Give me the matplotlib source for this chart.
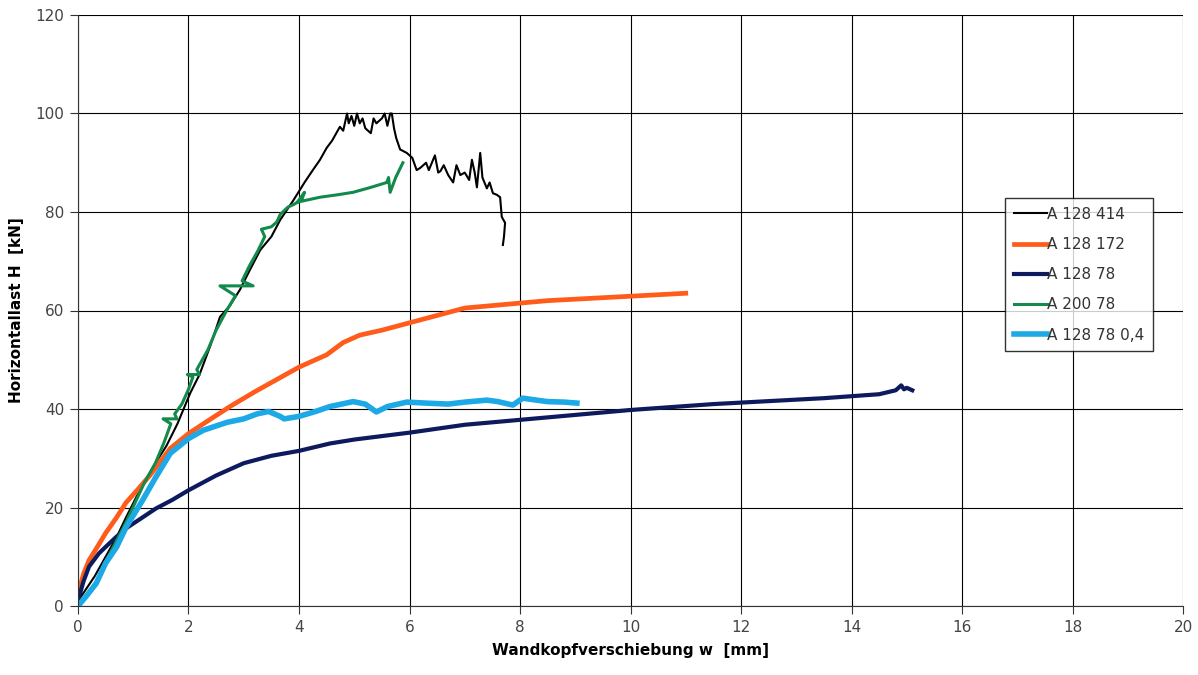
import matplotlib
matplotlib.use("Agg")
from matplotlib import pyplot as plt

# A 128 414
x_414 = [0, 0.15, 0.3, 0.5, 0.7, 0.87, 1.05, 1.2, 1.4, 1.6, 1.8, 2.03, 2.2, 2.4, 2.57, 2.75,
         2.93, 3.1, 3.3, 3.5, 3.66, 3.9, 4.1, 4.25, 4.38, 4.5, 4.6, 4.74, 4.8, 4.87, 4.9, 4.95,
         5.0, 5.05, 5.1, 5.15, 5.2, 5.3, 5.35, 5.4, 5.5, 5.55, 5.6, 5.65, 5.68, 5.72, 5.76, 5.83,
         5.95, 6.05, 6.13, 6.2, 6.3, 6.35, 6.46, 6.52, 6.56, 6.62, 6.7, 6.79, 6.85, 6.92, 7.0,
         7.08, 7.13, 7.18, 7.22, 7.28, 7.32, 7.4, 7.45, 7.51, 7.58, 7.64, 7.67, 7.73, 7.71, 7.69]
y_414 = [1, 3.5, 6, 10, 14, 18, 22, 25, 29, 32.5, 37, 43.2, 47, 53, 58.7, 61,
         64.2, 68, 72.3, 75, 78.4, 82.4, 86, 88.5, 90.6, 93, 94.5, 97.3, 96.5, 100, 98, 99.5,
         97.5, 100, 98, 99, 97, 96, 99, 98, 99, 100, 97.5, 100, 100, 97, 95, 92.7,
         92, 91, 88.5, 89, 90, 88.5, 91.5, 88, 88.3, 89.5, 87.5, 86, 89.5, 87.5, 88,
         86.5, 90.6, 88, 85, 92, 87, 84.8, 86, 83.8, 83.5, 83, 79, 77.8, 75, 73.3]

# A 128 172
x_172 = [0, 0.02, 0.1, 0.2, 0.35, 0.5, 0.7, 0.87, 1.07, 1.3, 1.67, 2.0, 2.27, 2.75, 3.2, 3.6,
         4.0, 4.5, 4.8, 5.1, 5.5, 6.0, 6.5, 7.0, 7.5, 8.0, 8.5, 9.0, 9.5, 10.0, 10.5, 11.0]
y_172 = [2, 3.2, 6.5, 9.3, 12, 14.8, 18, 21, 23.5, 26.5, 32, 35, 37, 40.5, 43.5, 46,
         48.5, 51, 53.5, 55, 56, 57.5, 59, 60.5, 61, 61.5, 62, 62.3, 62.6, 62.9, 63.2, 63.5]

# A 128 78
x_78 = [0, 0.02, 0.1, 0.2, 0.38, 0.5, 0.69, 0.9, 1.17, 1.41, 1.7, 2.0, 2.5, 3.0, 3.5, 4.0,
        4.56, 5.0, 5.5, 6.0, 6.5, 7.0, 7.5, 8.0, 8.5, 9.0, 9.5, 10.0, 10.5, 11.0, 11.5, 12.0,
        12.5, 13.0, 13.5, 14.0, 14.5, 14.8, 14.9, 14.95, 15.0, 15.1]
y_78 = [1, 1.9, 5, 8, 10.7, 12, 14, 16, 18, 19.8, 21.5, 23.5, 26.5, 29, 30.5, 31.5,
        33, 33.8, 34.5, 35.2, 36, 36.8, 37.3, 37.8, 38.3, 38.8, 39.3, 39.8, 40.2, 40.6, 41, 41.3,
        41.6, 41.9, 42.2, 42.6, 43, 43.8, 44.8, 44, 44.3, 43.8]

# A 200 78
x_200 = [0, 0.3, 0.5, 0.87, 1.2, 1.4, 1.55, 1.68, 1.54, 1.79, 1.75, 1.88, 2.0, 2.08, 1.98,
         2.2, 2.15, 2.35, 2.5, 2.69, 2.85, 2.57, 3.17, 2.97, 3.1, 3.25, 3.38, 3.32, 3.5, 3.6,
         3.66, 3.8, 3.9, 4.05, 4.1, 3.97, 4.38, 4.7, 4.98, 5.3, 5.59, 5.62, 5.65, 5.75, 5.88]
y_200 = [0, 4, 9, 17, 25, 29, 33, 37, 38, 38, 39, 41, 44, 46.5, 47, 47,
         48, 52, 56, 60, 63, 65, 65, 66, 69, 72, 75, 76.5, 77, 78,
         79.5, 81, 81.5, 82.5, 84, 82, 83, 83.5, 84, 85, 86, 87, 84, 87, 90]

# A 128 78 0,4
x_04 = [0, 0.15, 0.33, 0.5, 0.7, 0.87, 1.17, 1.4, 1.67, 2.0, 2.27, 2.7, 3.0, 3.24, 3.45, 3.66,
        3.73, 4.0, 4.3, 4.56, 4.98, 5.2, 5.4, 5.6, 5.95, 6.3, 6.7, 7.0, 7.4, 7.6, 7.87, 8.05,
        8.3, 8.5, 8.8, 9.03]
y_04 = [0, 2, 4.6, 8.7, 12, 16, 21.5, 26, 31, 34, 35.7, 37.3, 38, 39, 39.5, 38.5,
        38, 38.5, 39.5, 40.5, 41.5, 41, 39.4, 40.5, 41.4, 41.2, 41, 41.4, 41.8, 41.5, 40.8, 42.2,
        41.8, 41.5, 41.4, 41.2]

series = [
    ("A 128 414", x_414, y_414, "black", 1.5),
    ("A 128 172", x_172, y_172, "#FF5B1A", 3.4),
    ("A 128 78", x_78, y_78, "#0D1B5E", 3.0),
    ("A 200 78", x_200, y_200, "#138A4C", 2.2),
    ("A 128 78 0,4", x_04, y_04, "#1CA9E6", 4.0),
]

fig = plt.figure(figsize=(11.98, 6.75), dpi=100)
ax = fig.add_axes([0.0651, 0.1022, 0.9224, 0.8756])

for name, xs, ys, col, lw in series:
    ax.plot(xs, ys, color=col, lw=lw, label=name, solid_joinstyle="round")

ax.set_xlim(0, 20)
ax.set_ylim(0, 120)
ax.set_xticks(range(0, 21, 2))
ax.set_yticks(range(0, 121, 20))
ax.grid(True, color="black", lw=0.8)
ax.set_axisbelow(True)
for s in ["top", "right"]:
    ax.spines[s].set_visible(False)
for s in ["left", "bottom"]:
    ax.spines[s].set_color("#333333")
ax.tick_params(direction="out", length=6, color="#333333", labelcolor="#444444",
               labelsize=11, pad=4)

ax.set_xlabel("Wandkopfverschiebung w  [mm]", fontsize=11, fontweight="bold", labelpad=6)
ax.set_ylabel("Horizontallast H  [kN]", fontsize=11, fontweight="bold", labelpad=8)

leg = ax.legend(loc="upper left", bbox_to_anchor=(0.839, 0.69), frameon=True,
                fancybox=False, edgecolor="black", fontsize=11, handlelength=2.2,
                handletextpad=0.0, labelspacing=1.0, borderpad=0.55, borderaxespad=0)
leg.get_frame().set_linewidth(1.0)
for t in leg.get_texts():
    t.set_color("#333333")

fig.savefig("out.png", dpi=100)
